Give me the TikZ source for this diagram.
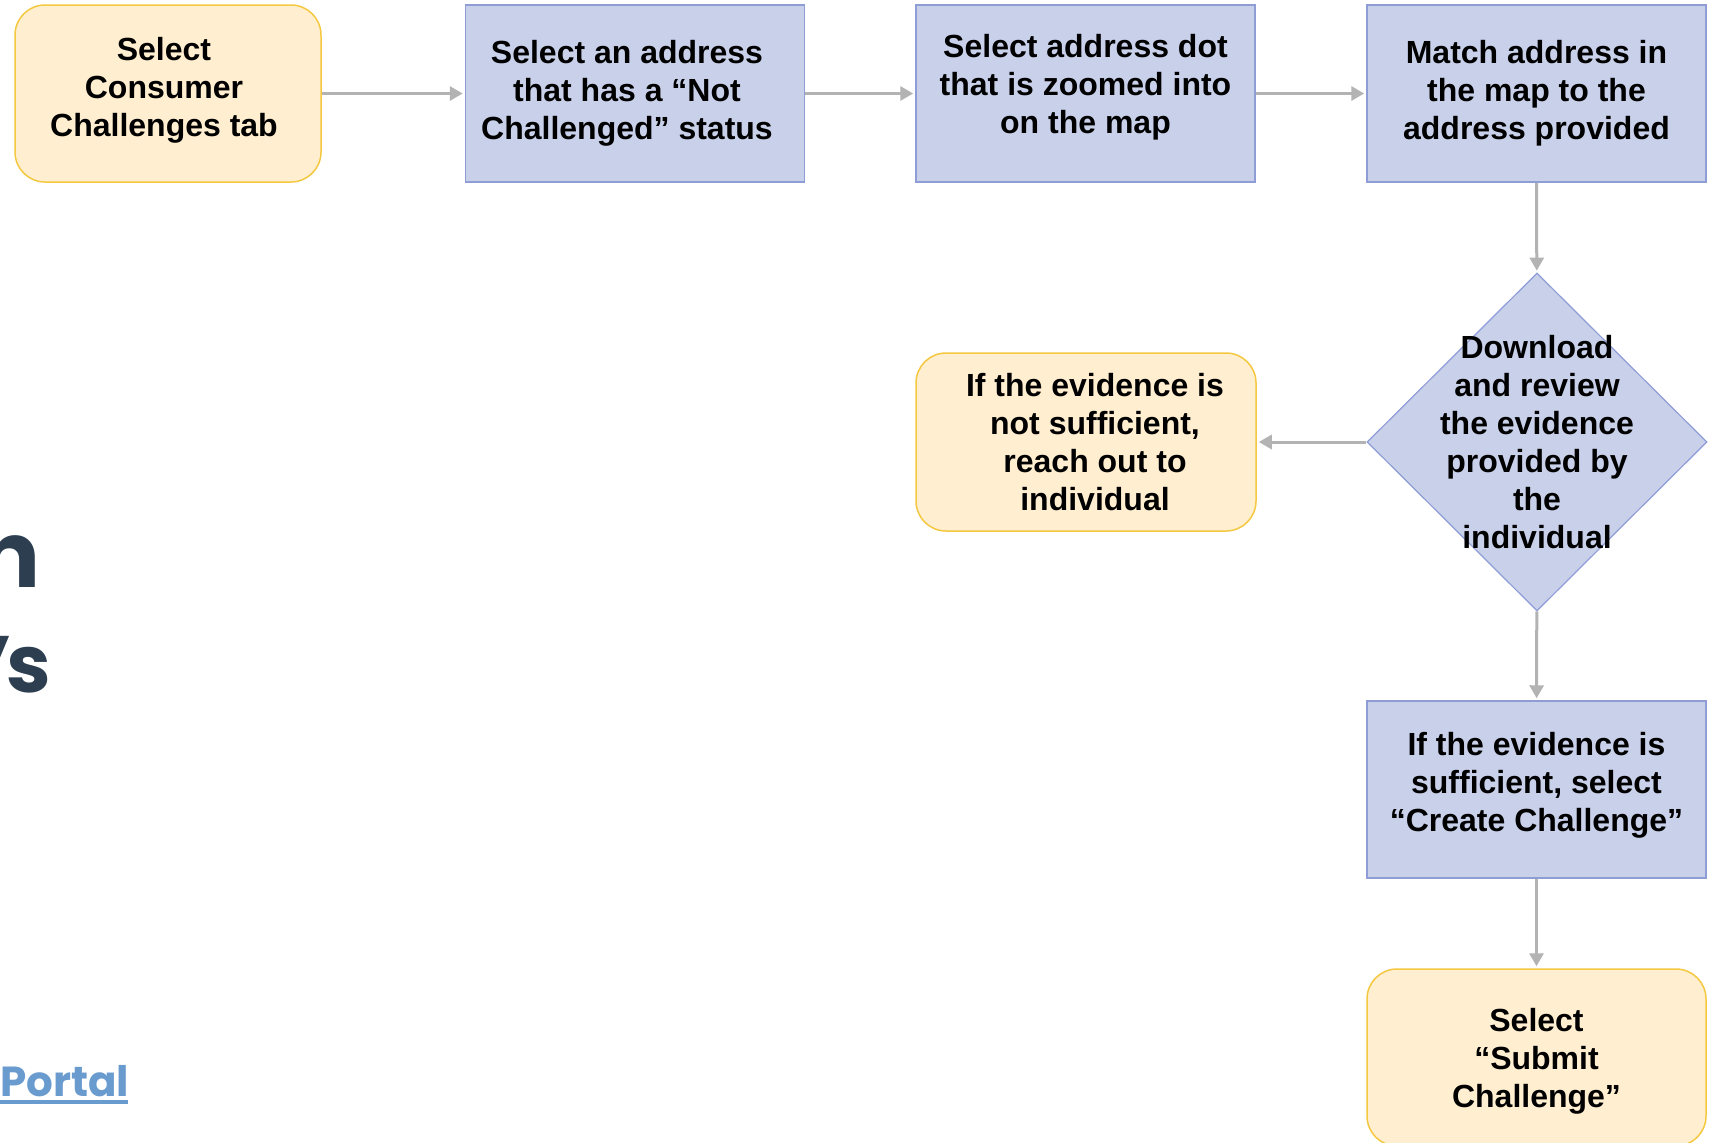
\documentclass[tikz,border=0pt]{standalone}
\usepackage{fontspec}
\setmainfont{Liberation Sans}
\newfontfamily\gothic{Poppins}
\usetikzlibrary{shapes.geometric,arrows.meta}
\definecolor{yfill}{HTML}{FFEFD0}
\definecolor{ydraw}{HTML}{F5C842}
\definecolor{bfill}{HTML}{C9D1EA}
\definecolor{bdraw}{HTML}{8E9DD6}
\definecolor{agray}{HTML}{B3B3B3}
\definecolor{navy}{HTML}{2C3E50}
\definecolor{linkblue}{HTML}{6A9BCF}
\begin{document}
\begin{tikzpicture}[x=1pt,y=-1pt,
  boxtext/.style={font=\fontsize{32}{38}\selectfont\bfseries, align=center, inner sep=0pt},
  base/.style={minimum width=339pt, minimum height=177pt, line width=1.5pt, inner sep=0pt},
  ybox/.style={base, fill=yfill, draw=ydraw, rounded corners=30pt},
  bbox/.style={base, fill=bfill, draw=bdraw},
  dia/.style={diamond, fill=bfill, draw=bdraw, line width=1.2pt, minimum width=340pt, minimum height=338pt, inner sep=0pt},
  conn/.style={draw=agray, line width=3pt, -{Triangle[length=13pt,width=14pt]}, shorten >=2pt},
  bigtext/.style={font=\gothic\bfseries\fontsize{92}{100}\selectfont, text=navy, inner sep=0pt},
]
\useasboundingbox (0,0) rectangle (1716,1143);
\fill[white] (0,0) rectangle (1716,1143);

\node[ybox, minimum width=306pt] (b1) at (168,93.5) {};
\node[bbox] (b2) at (635,93.5) {};
\node[bbox] (b3) at (1085.5,93.5) {};
\node[bbox] (b4) at (1536.5,93.5) {};
\node[dia] (d) at (1537,442) {};
\node[ybox, minimum width=340pt, minimum height=178pt] (b5) at (1086,442) {};
\node[bbox] (b6) at (1536.5,789.5) {};
\node[ybox] (b7) at (1536.5,1057.5) {};

\node[boxtext] (t1) at ([shift={(-4,-3)}]b1.center) {Select\\Consumer\\Challenges tab};
\node[boxtext] (t2) at ([shift={(-8,0)}]b2.center) {Select an address\\that has a “Not\\Challenged” status};
\node[boxtext] (t3) at ([shift={(0,-6)}]b3.center) {Select address dot\\that is zoomed into\\on the map};
\node[boxtext] (t4) at (b4.center) {Match address in\\the map to the\\address provided};
\node[boxtext] (td) at (d.center) {Download\\and review\\the evidence\\provided by\\the\\individual};
\node[boxtext] (t5) at ([shift={(9,0)}]b5.center) {If the evidence is\\not sufficient,\\reach out to\\individual};
\node[boxtext] (t6) at ([shift={(0,-4)}]b6.center) {If the evidence is\\sufficient, select\\“Create Challenge”};
\node[boxtext] (t7) at ([shift={(0,4)}]b7.center) {Select\\“Submit\\Challenge”};

\draw[conn] (b1) -- (b2);
\draw[conn] (b2) -- (b3);
\draw[conn] (b3) -- (b4);
\draw[conn] (b4) -- (d);
\draw[conn] (d) -- (b5);
\draw[conn] (d) -- (b6);
\draw[conn] (b6) -- (b7);

\node[bigtext, anchor=base east] (s1) at (41,587) {n};
\node[bigtext, font=\gothic\bfseries\fontsize{80}{90}\selectfont, anchor=base east] (s2) at (51,692) {’\kern-6pt s};
\node[font=\gothic\fontsize{42}{48}\selectfont\bfseries, text=linkblue, inner sep=0pt, anchor=base west] (s3) at (0,1096) {Portal};
\coordinate (u1) at (0,1102);
\coordinate (u2) at (128,1102);
\draw[linkblue, line width=4pt] (u1) -- (u2);
\end{tikzpicture}
\end{document}
